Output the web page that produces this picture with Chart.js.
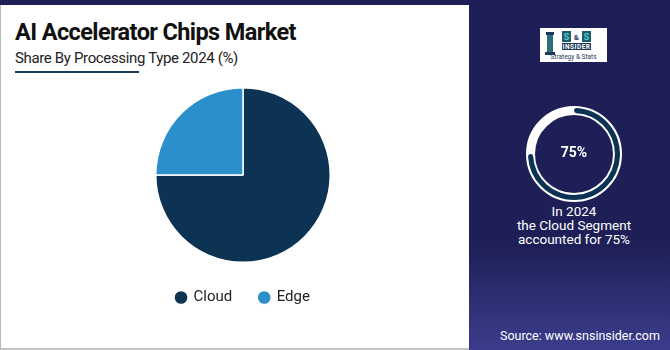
<!DOCTYPE html>
<html>
<head>
<meta charset="utf-8">
<script src="https://cdn.jsdelivr.net/npm/chart.js@4/dist/chart.umd.min.js"></script>
<style>
  html, body { margin: 0; padding: 0; }
  body {
    width: 670px; height: 350px; position: relative; overflow: hidden;
    background: #1e1f56; font-family: Roboto, "Noto Sans", sans-serif;
  }
  .card {
    position: absolute; left: 0; top: 5px; width: 468px; height: 343px;
    background: #fff; border-left: 1px solid #b9b9b9; border-bottom: 2px solid #c4c4c4;
  }
  .title {
    position: absolute; left: 14px; top: 13px; margin: 0;
    font-size: 23.5px; font-weight: 700; color: #111; letter-spacing: -0.6px;
  }
  .subtitle {
    position: absolute; left: 14px; top: 44px;
    font-size: 15px; color: #222; letter-spacing: -0.35px;
  }
  .underline {
    position: absolute; left: 14px; top: 66px; width: 124px; height: 2px; background: #1b3d5e;
  }
  .pie-box { position: absolute; left: 8px; top: 82px; width: 468px; height: 228px; }
  .side {
    position: absolute; left: 469px; top: 0; width: 201px; height: 350px;
    background: linear-gradient(180deg, #1e1f56 0%, #1e1f56 70%, #2c2f72 85%, #3b3c8c 100%);
  }
  .logo {
    position: absolute; left: 71px; top: 28px; width: 67px; height: 34px; background: #fff;
  }
  .ring-bg {
    position: absolute; left: 57px; top: 106px; width: 78px; height: 78px;
    border: 9px solid #fff; border-radius: 50%;
  }
  .ring-box { position: absolute; left: 59px; top: 108px; width: 92px; height: 92px; }
  .ring-label {
    position: absolute; left: 58px; top: 144px; width: 94px; text-align: center;
    color: #fff; font-weight: 700; font-size: 14px;
  }
  .note {
    position: absolute; left: 0; top: 204px; width: 210px; text-align: center;
    color: #fff; font-size: 13.5px; line-height: 14px;
  }
  .source {
    position: absolute; left: 31px; top: 328px; color: #fff; font-size: 12.5px;
  }
</style>
</head>
<body>
<div class="card">
  <h1 class="title">AI Accelerator Chips Market</h1>
  <div class="subtitle">Share By Processing Type 2024 (%)</div>
  <div class="underline"></div>
  <div class="pie-box"><canvas id="pieChart"></canvas></div>
</div>

<div class="side">
  <div class="logo">
    <svg width="67" height="34" viewBox="0 0 67 34">
      <rect x="6" y="4" width="8" height="3" fill="#1e3a5a"/>
      <rect x="7" y="7" width="6" height="18" fill="#2b6f7a"/>
      <rect x="5" y="24" width="10" height="3" fill="#1e3a5a"/>
      <rect x="22" y="3" width="9" height="11" fill="#1f5a6a"/>
      <text x="26.5" y="12" font-size="9" font-weight="700" fill="#4fd0c8" text-anchor="middle" font-family="Roboto">S</text>
      <text x="36.5" y="12" font-size="8" font-weight="700" fill="#1e3a5a" text-anchor="middle" font-family="Roboto">&amp;</text>
      <rect x="42" y="3" width="9" height="11" fill="#1f5a6a"/>
      <text x="46.5" y="12" font-size="9" font-weight="700" fill="#4fd0c8" text-anchor="middle" font-family="Roboto">S</text>
      <rect x="22" y="15" width="29" height="7" fill="#1e3a5a"/>
      <text x="36.5" y="21" font-size="6.5" font-weight="700" fill="#fff" text-anchor="middle" font-family="Roboto" letter-spacing="0.5">INSIDER</text>
      <text x="33.5" y="31" font-size="6.5" fill="#1e3a5a" text-anchor="middle" font-family="Roboto">Strategy &amp; Stats</text>
    </svg>
  </div>
  <div class="ring-bg"></div>
  <div class="ring-box"><canvas id="ringChart"></canvas></div>
  <div class="ring-label">75%</div>
  <div class="note">In 2024<br>the Cloud Segment<br>accounted for 75%</div>
  <div class="source">Source: www.snsinsider.com</div>
</div>

<script>
// processing type shares, 2024 (%)
const segments = ["Cloud", "Edge"];
const shares = [75, 25];
const segmentColors = ["#0c3354", "#2a8fcb"];

// highlighted segment shown in the side ring
const highlightShare = [75, 25];

new Chart(document.getElementById("pieChart"), {
  type: "pie",
  data: {
    labels: segments,
    datasets: [{
      data: shares,
      backgroundColor: segmentColors,
      borderColor: "#ffffff",
      borderWidth: 1.5
    }]
  },
  options: {
    responsive: true,
    maintainAspectRatio: false,
    animation: false,
    layout: { padding: 0 },
    plugins: {
      tooltip: { enabled: false },
      legend: {
        position: "bottom",
        labels: {
          usePointStyle: true,
          pointStyle: "circle",
          boxWidth: 10,
          boxHeight: 10,
          padding: 27,
          color: "#222",
          font: { family: "Roboto", size: 15 }
        }
      }
    }
  }
});

new Chart(document.getElementById("ringChart"), {
  type: "doughnut",
  data: {
    labels: ["Cloud", "Other"],
    datasets: [{
      data: highlightShare,
      backgroundColor: ["#0c3354", "rgba(0,0,0,0)"],
      borderWidth: 0,
      borderRadius: 3
    }]
  },
  options: {
    responsive: true,
    maintainAspectRatio: false,
    animation: false,
    cutout: "89%",
    layout: { padding: 0 },
    plugins: { legend: { display: false }, tooltip: { enabled: false } }
  }
});
</script>
</body>
</html>
